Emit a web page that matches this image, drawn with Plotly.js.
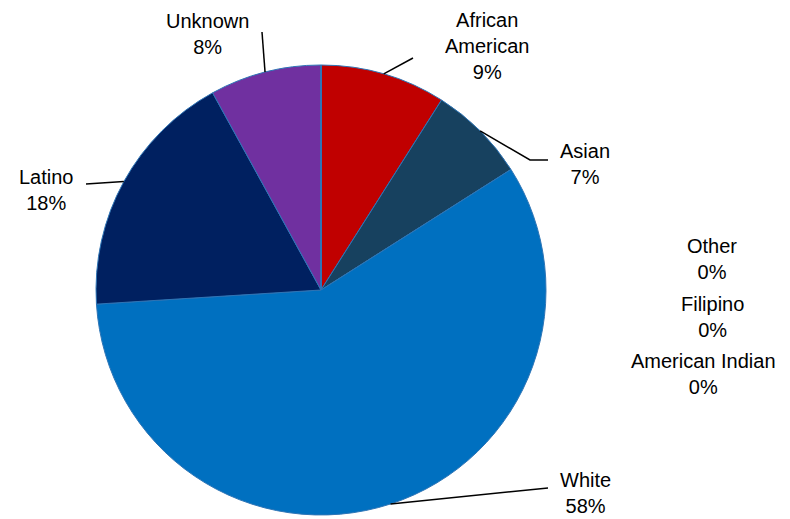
<!DOCTYPE html>
<html>
<head>
<meta charset="utf-8">
<script src="https://cdn.plot.ly/plotly-3.0.1.min.js"></script>
<style>body{margin:0;background:#fff}</style>
</head>
<body>
<div id="chart" style="width:790px;height:519px"></div>
<script>
var groups = ['African<br>American', 'Asian', 'White', 'Latino', 'Unknown', 'Other', 'Filipino', 'American Indian'];
var shares = [9, 7, 58, 18, 8, 0, 0, 0];
var colors = ['#C00000', '#17415F', '#0070C0', '#002060', '#7030A0', '#888888', '#888888', '#888888'];

var W = 790, H = 519;
var cx = 321, cy = 290, r = 225;

// label spots and leader elbows, in pixels
var labelPos = [[487, 46], [585, 164], [585, 493], [46, 190], [207, 34], [712, 259], [712, 317], [703, 374]];
var elbows = [[413, 58], [530, 160], [548, 488], [86, 184], [262, 32]];
var ends = [[413, 58], [548, 160], [548, 488], [86, 184], [262, 32]];

var total = shares.reduce(function (a, b) { return a + b; }, 0);
var px = function (x) { return x / W; };
var py = function (y) { return 1 - y / H; };

var annotations = [], shapes = [];
var cum = 0;
for (var i = 0; i < groups.length; i++) {
    var mid = (cum + shares[i] / 2) / total * 2 * Math.PI;
    cum += shares[i];
    annotations.push({
        x: px(labelPos[i][0]), y: py(labelPos[i][1]), xref: 'paper', yref: 'paper',
        xanchor: 'center', yanchor: 'middle',
        text: groups[i] + '<br>' + Math.round(shares[i] / total * 100) + '%',
        showarrow: false, font: {size: 20, color: '#000'}, align: 'center'
    });
    if (shares[i] > 0) {
        var sx = cx + r * Math.sin(mid), sy = cy - r * Math.cos(mid);
        var e = elbows[i], f = ends[i];
        shapes.push({
            type: 'path', xref: 'paper', yref: 'paper',
            path: 'M' + px(sx) + ',' + py(sy) + ' L' + px(e[0]) + ',' + py(e[1]) + ' L' + px(f[0]) + ',' + py(f[1]),
            line: {color: '#000', width: 1.5}
        });
    }
}

var data = [{
    type: 'pie',
    labels: groups,
    values: shares,
    sort: false,
    direction: 'clockwise',
    rotation: 0,
    textinfo: 'none',
    hoverinfo: 'label+percent',
    marker: {colors: colors, line: {color: '#2E75B6', width: 1}},
    domain: {x: [96 / W, 546 / W], y: [(H - 515) / H, (H - 65) / H]}
}];

var layout = {
    width: W, height: H,
    margin: {l: 0, r: 0, t: 0, b: 0},
    showlegend: false,
    paper_bgcolor: '#fff',
    font: {family: 'Liberation Sans, Arial, sans-serif'},
    annotations: annotations,
    shapes: shapes
};

Plotly.newPlot('chart', data, layout, {displayModeBar: false});
</script>
</body>
</html>
